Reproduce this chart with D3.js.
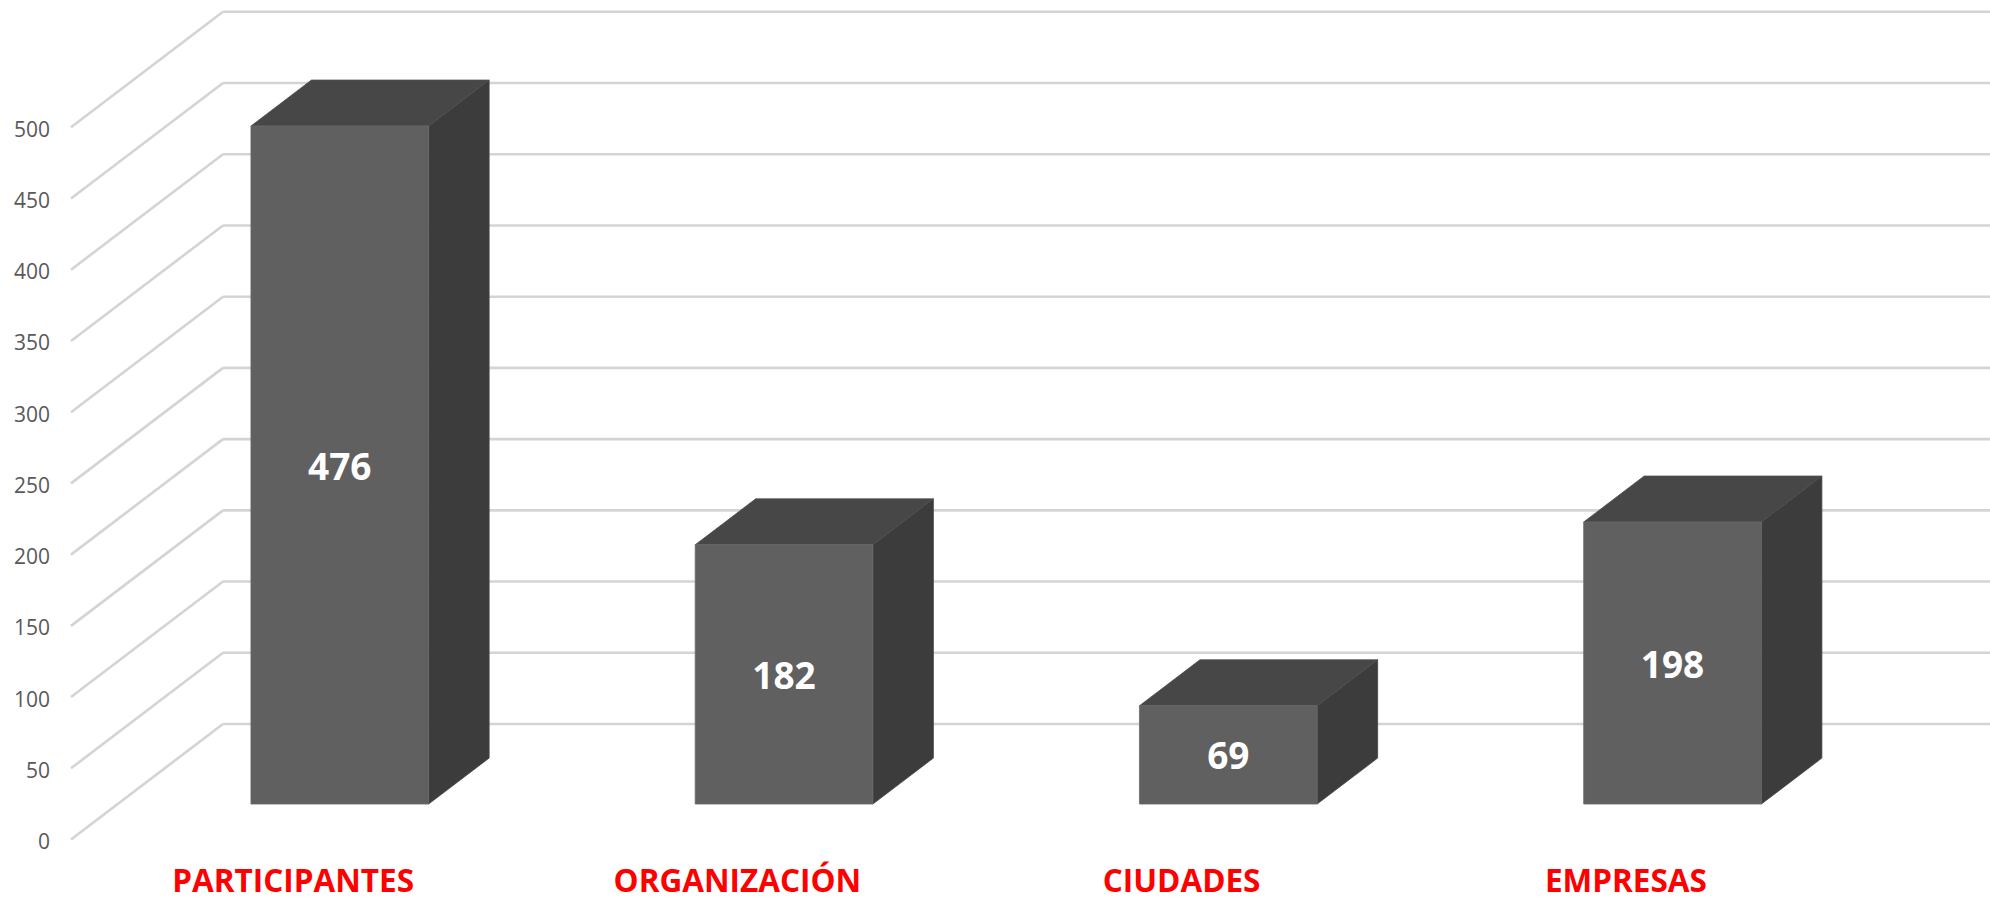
<!DOCTYPE html>
<html>
<head>
<meta charset="utf-8">
<script src="https://cdn.jsdelivr.net/npm/d3@7"></script>
<style>
  html, body { margin: 0; padding: 0; background: #ffffff; }
  svg { display: block; }
</style>
</head>
<body>
<svg id="chart" width="1990" height="902"></svg>
<script>
const categories = ["PARTICIPANTES", "ORGANIZACIÓN", "CIUDADES", "EMPRESAS"];
const values = [476, 182, 69, 198];
const tickValues = [0, 50, 100, 150, 200, 250, 300, 350, 400, 450, 500];

const W = 1990, H = 902;
const svg = d3.select("#chart");

// front plane (z = 0) scales
const y = d3.scaleLinear().domain([0, 500]).range([839.5, 127.3]);
const x = d3.scaleBand().domain(categories).range([71, 1848]).paddingInner(0.6).paddingOuter(0.3);

// depth vector of the whole plot (front wall -> back wall)
const DX = 152, DY = -115.5;
const zFront = 0.307, zBack = 0.705;
const P = (px, v, z) => [px + z * DX, y(v) + z * DY];

const grid = svg.append("g");
tickValues.forEach(t => {
  const a = P(x.range()[0], t, 0), b = P(x.range()[0], t, 1);
  grid.append("line").attr("x1", a[0]).attr("y1", a[1]).attr("x2", b[0]).attr("y2", b[1])
    .attr("stroke", "#d4d4d4").attr("stroke-width", 2.6);
  grid.append("line").attr("x1", b[0]).attr("y1", b[1]).attr("x2", W + 20).attr("y2", b[1])
    .attr("stroke", "#d4d4d4").attr("stroke-width", 2.6);
});

// y tick labels
svg.append("g").selectAll("text").data(tickValues).join("text")
  .attr("x", 50).attr("y", d => y(d) + 1.5)
  .attr("text-anchor", "end").attr("dominant-baseline", "central")
  .attr("font-family", "'Open Sans', sans-serif").attr("font-size", 21)
  .attr("fill", "#595959").text(d => d);

// bars
const bars = svg.append("g").selectAll("g").data(categories).join("g");
const poly = pts => pts.map(p => p.join(",")).join(" ");
bars.each(function(c, i) {
  const g = d3.select(this);
  const v = values[i];
  const x0 = x(c), x1 = x(c) + x.bandwidth();
  const f = [P(x0, 0, zFront), P(x1, 0, zFront), P(x1, v, zFront), P(x0, v, zFront)];
  const s = [P(x1, 0, zFront), P(x1, 0, zBack), P(x1, v, zBack), P(x1, v, zFront)];
  const t = [P(x0, v, zFront), P(x1, v, zFront), P(x1, v, zBack), P(x0, v, zBack)];
  g.append("polygon").attr("points", poly(s)).attr("fill", "#3c3c3c").attr("stroke", "#444").attr("stroke-width", 0.8);
  g.append("polygon").attr("points", poly(t)).attr("fill", "#474747").attr("stroke", "#4e4e4e").attr("stroke-width", 0.8);
  g.append("polygon").attr("points", poly(f)).attr("fill", "#606060").attr("stroke", "#6a6a6a").attr("stroke-width", 0.8);
  const cx = (x0 + x1) / 2 + zFront * DX;
  const cy = (y(0) + y(v)) / 2 + zFront * DY;
  g.append("text").attr("x", cx).attr("y", cy)
    .attr("text-anchor", "middle").attr("dominant-baseline", "central")
    .attr("font-family", "'Open Sans', sans-serif").attr("font-weight", "bold")
    .attr("font-size", 37).attr("fill", "#ffffff").text(v);
});

// category labels
svg.append("g").selectAll("text").data(categories).join("text")
  .attr("x", d => x(d) + x.bandwidth() / 2)
  .attr("y", 892)
  .attr("text-anchor", "middle")
  .attr("font-family", "'Open Sans', sans-serif").attr("font-weight", "bold")
  .attr("font-size", 31.5).attr("fill", "#ff0000").text(d => d);
</script>
</body>
</html>
